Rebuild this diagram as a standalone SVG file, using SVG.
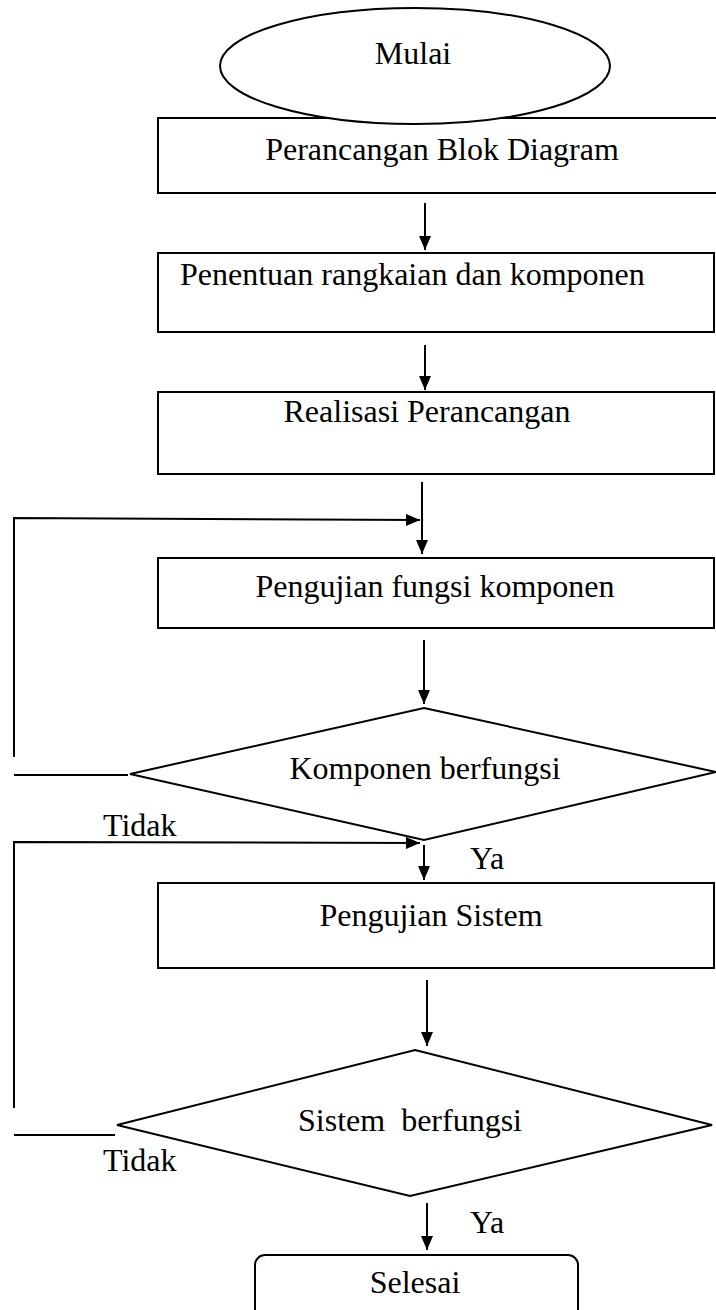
<svg xmlns="http://www.w3.org/2000/svg" width="716" height="1310" viewBox="0 0 716 1310">
<style>
.shape{fill:#fff;stroke:#000;stroke-width:2}
.line{fill:none;stroke:#000;stroke-width:2}
.t{font-family:"Liberation Serif","Times New Roman",serif;font-size:32px;fill:#000}
.c{text-anchor:middle}
</style>
<defs>
<marker id="ah" markerUnits="userSpaceOnUse" markerWidth="14" markerHeight="12" refX="14" refY="6" orient="auto">
<path d="M0,0 L14,6 L0,12 z" fill="#000"/>
</marker>
</defs>
<g id="n-perancangan">
<rect class="shape" x="158" y="118" width="560" height="75"/>
<text class="t c" x="442" y="160">Perancangan Blok Diagram</text>
</g>
<g id="n-mulai">
<ellipse class="shape" cx="415" cy="66" rx="195" ry="58"/>
<text class="t c" x="413" y="64">Mulai</text>
</g>
<g id="n-penentuan">
<rect class="shape" x="158" y="253" width="556" height="79"/>
<text class="t" x="180" y="285">Penentuan rangkaian dan komponen</text>
</g>
<g id="n-realisasi">
<rect class="shape" x="158" y="392" width="556" height="82"/>
<text class="t c" x="427" y="422">Realisasi Perancangan</text>
</g>
<g id="n-pengujian-fungsi">
<rect class="shape" x="158" y="558" width="556" height="70"/>
<text class="t c" x="435" y="597">Pengujian fungsi komponen</text>
</g>
<g id="n-komponen-berfungsi">
<polygon class="shape" points="424,708 716,772 424,840 130,774"/>
<text class="t c" x="425" y="779">Komponen berfungsi</text>
</g>
<g id="n-pengujian-sistem">
<rect class="shape" x="158" y="883" width="556" height="85"/>
<text class="t c" x="431" y="926">Pengujian Sistem</text>
</g>
<g id="n-sistem-berfungsi">
<polygon class="shape" points="415,1050 712,1125 410,1196 117,1125"/>
<text class="t c" x="410" y="1131" xml:space="preserve">Sistem  berfungsi</text>
</g>
<g id="n-selesai">
<rect class="shape" x="255" y="1255" width="323" height="70" rx="10" ry="10"/>
<text class="t c" x="415" y="1293">Selesai</text>
</g>
<g id="connectors">
<line class="line" x1="425" y1="203" x2="425" y2="250" marker-end="url(#ah)"/>
<line class="line" x1="425" y1="345" x2="425" y2="390" marker-end="url(#ah)"/>
<line class="line" x1="422" y1="482" x2="422" y2="554" marker-end="url(#ah)"/>
<polyline class="line" points="14,757 14,518 420,520" marker-end="url(#ah)"/>
<line class="line" x1="424" y1="640" x2="424" y2="704" marker-end="url(#ah)"/>
<line class="line" x1="14" y1="775" x2="128" y2="775"/>
<line class="line" x1="424" y1="845" x2="424" y2="880" marker-end="url(#ah)"/>
<polyline class="line" points="14,1108 14,842 420,843" marker-end="url(#ah)"/>
<line class="line" x1="427" y1="980" x2="427" y2="1046" marker-end="url(#ah)"/>
<line class="line" x1="14" y1="1135" x2="115" y2="1135"/>
<line class="line" x1="427" y1="1203" x2="427" y2="1250" marker-end="url(#ah)"/>
</g>
<g id="labels">
<text class="t" x="103" y="836">Tidak</text>
<text class="t" x="470" y="869">Ya</text>
<text class="t" x="103" y="1171">Tidak</text>
<text class="t" x="470" y="1233">Ya</text>
</g>
</svg>
